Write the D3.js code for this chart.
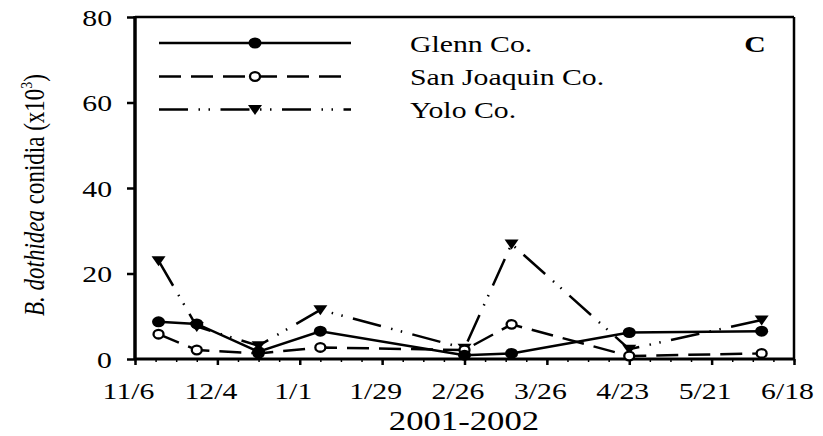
<!DOCTYPE html>
<html>
<head>
<meta charset="utf-8">
<script src="https://cdn.jsdelivr.net/npm/d3@7"></script>
<style>
  body { margin: 0; background: #fff; }
  text { font-family: "Liberation Serif", "Times New Roman", serif; fill: #000; }
</style>
</head>
<body>
<script>
// sampling dates and conidia counts (x10^3)
var dates = ["2001-11-14", "2001-11-27", "2001-12-18", "2002-01-08", "2002-02-26", "2002-03-14", "2002-04-23", "2002-06-07"];
var glenn = [8.7, 8.2, 1.7, 6.5, 0.9, 1.3, 6.2, 6.5];
var sanJoaquin = [5.8, 2.1, 1.3, 2.7, 2.1, 8.1, 0.7, 1.3];
var yolo = [23.0, 7.6, 3.1, 11.5, 2.5, 26.9, 2.3, 9.1];
var xTickLabels = ["11/6", "12/4", "1/1", "1/29", "2/26", "3/26", "4/23", "5/21", "6/18"];
var yTicks = [0, 20, 40, 60, 80];
var seriesNames = ["Glenn Co.", "San Joaquin Co.", "Yolo Co."];

window.onload = start;

function start() {
    var width = 823, height = 436;
    var left = 135, right = 794, top = 17, bottom = 359;
    var stretch = 1.24; // text in the picture is wider than normal

    var svg = d3.select("body").append("svg")
        .attr("width", width)
        .attr("height", height);

    var parse = d3.utcParse("%Y-%m-%d");
    var first = parse("2001-11-06"), last = parse("2002-06-18");

    var x = d3.scaleUtc().domain([first, last]).range([left, right]);
    var y = d3.scaleLinear().domain([0, 80]).range([bottom, top]);

    // weekly minor ticks, every 4 weeks a major tick
    var weeks = d3.utcDay.range(first, d3.utcDay.offset(last, 1), 7);
    var majors = weeks.filter(function(d, i) { return i % 4 == 0; });

    var xAxis = d3.axisBottom(x).tickValues(weeks).tickSize(3).tickFormat("");
    svg.append("g").attr("transform", "translate(0," + bottom + ")").call(xAxis)
        .call(function(g) { g.select(".domain").remove(); g.selectAll("line").attr("stroke-width", 1.5); });

    var xMajor = d3.axisBottom(x).tickValues(majors).tickSize(6)
        .tickFormat(function(d, i) { return xTickLabels[i]; });
    svg.append("g").attr("transform", "translate(0," + bottom + ")").call(xMajor)
        .call(function(g) {
            g.select(".domain").remove();
            g.selectAll("line").attr("stroke-width", 2.5);
            g.selectAll("text").attr("font-size", 24).attr("font-family", "Liberation Serif")
                .attr("y", 0).attr("dy", 0)
                .attr("transform", "translate(-7,40) scale(" + stretch + ",1)");
        });

    var yAxis = d3.axisLeft(y).tickValues(yTicks).tickSize(8);
    svg.append("g").attr("transform", "translate(" + left + ",0)").call(yAxis)
        .call(function(g) {
            g.select(".domain").remove();
            g.selectAll("line").attr("stroke-width", 2.5);
            g.selectAll("text").attr("font-size", 24).attr("font-family", "Liberation Serif")
                .attr("x", 0).attr("dy", "0.34em")
                .attr("transform", "translate(-23,0) scale(" + stretch + ",1)");
        });

    // frame
    svg.append("line").attr("x1", left).attr("x2", right).attr("y1", top).attr("y2", top)
        .attr("stroke", "#000").attr("stroke-width", 2.5);
    svg.append("line").attr("x1", right).attr("x2", right).attr("y1", top).attr("y2", bottom)
        .attr("stroke", "#000").attr("stroke-width", 2.5);
    svg.append("line").attr("x1", left).attr("x2", right).attr("y1", bottom).attr("y2", bottom)
        .attr("stroke", "#000").attr("stroke-width", 3);
    svg.append("line").attr("x1", left).attr("x2", left).attr("y1", top - 1).attr("y2", bottom + 1)
        .attr("stroke", "#000").attr("stroke-width", 3.5);

    var series = [
        { name: seriesNames[0], values: glenn, dash: null, marker: "filled" },
        { name: seriesNames[1], values: sanJoaquin, dash: "22,10", marker: "open" },
        { name: seriesNames[2], values: yolo, dash: "29,10.5,1.5,8.5,1.5,10.5", marker: "tri" }
    ];

    var line = d3.line()
        .x(function(d) { return x(parse(d.date)); })
        .y(function(d) { return y(d.value); });

    function drawMarker(g, type, cx, cy) {
        if (type == "filled") {
            g.append("ellipse").attr("cx", cx).attr("cy", cy).attr("rx", 6.5).attr("ry", 5.5).attr("fill", "#000");
        } else if (type == "open") {
            g.append("ellipse").attr("cx", cx).attr("cy", cy).attr("rx", 5).attr("ry", 4.3)
                .attr("fill", "#fff").attr("stroke", "#000").attr("stroke-width", 2.3);
        } else {
            g.append("path").attr("d", "M" + (cx - 7) + "," + (cy - 4.5) + "L" + (cx + 7) + "," + (cy - 4.5) + "L" + cx + "," + (cy + 5.5) + "Z")
                .attr("fill", "#000");
        }
    }

    // draw Yolo first so the others sit on top
    [2, 1, 0].forEach(function(k) {
        var s = series[k];
        var pts = dates.map(function(d, i) { return { date: d, value: s.values[i] }; });
        svg.append("path").datum(pts)
            .attr("d", line)
            .attr("fill", "none")
            .attr("stroke", "#000")
            .attr("stroke-width", 2.5)
            .attr("stroke-dasharray", s.dash);
        var g = svg.append("g");
        pts.forEach(function(p) { drawMarker(g, s.marker, x(parse(p.date)), y(p.value)); });
    });

    // legend
    var legY = [43, 76.5, 109.5];
    series.forEach(function(s, i) {
        svg.append("line").attr("x1", 159).attr("x2", 351).attr("y1", legY[i]).attr("y2", legY[i])
            .attr("stroke", "#000").attr("stroke-width", 2.5).attr("stroke-dasharray", s.dash);
        drawMarker(svg, s.marker, 255, legY[i]);
        svg.append("text").attr("font-size", 24)
            .attr("transform", "translate(410," + (legY[i] + 8.5) + ") scale(" + stretch + ",1)")
            .text(s.name);
    });

    svg.append("text").attr("font-size", 24)
        .attr("font-weight", "bold").attr("text-anchor", "middle")
        .attr("transform", "translate(755,52) scale(" + stretch + ",1)").text("C");

    // axis titles
    svg.append("text").attr("font-size", 28).attr("text-anchor", "middle")
        .attr("transform", "translate(464,429.5) scale(" + stretch + ",1)")
        .text("2001-2002");

    var yl = svg.append("text")
        .attr("transform", "translate(43.5,195) scale(" + stretch + ",1) rotate(-90)")
        .attr("font-size", 23).attr("text-anchor", "middle");
    yl.append("tspan").attr("font-style", "italic").text("B. dothidea");
    yl.append("tspan").text(" conidia (x10");
    yl.append("tspan").attr("font-size", 14).attr("dy", -9).text("3");
    yl.append("tspan").attr("dy", 9).text(")");
}
</script>
</body>
</html>
